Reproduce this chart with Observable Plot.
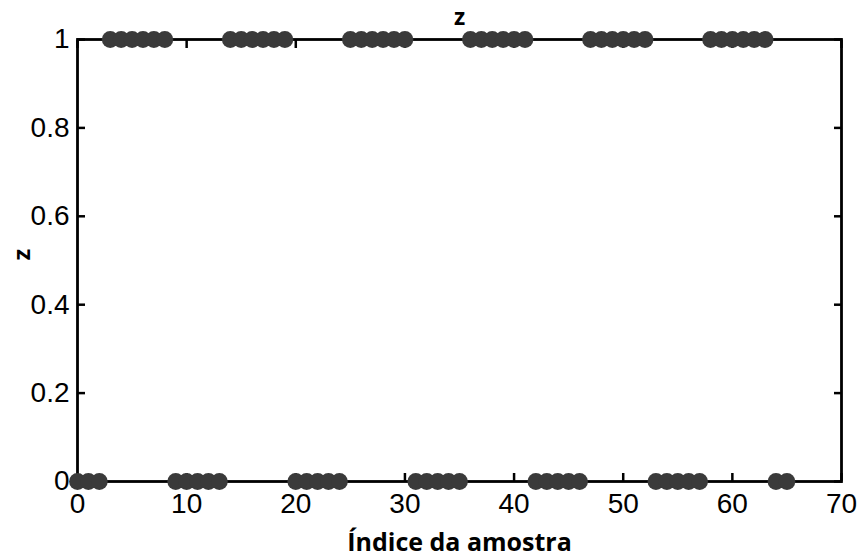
<!DOCTYPE html>
<html>
<head>
<meta charset="utf-8">
<script src="https://cdn.jsdelivr.net/npm/d3@7"></script>
<script src="https://cdn.jsdelivr.net/npm/@observablehq/plot@0.6"></script>
<style>
  html, body { margin: 0; padding: 0; background: #fff; }
</style>
</head>
<body>
<div id="chart"></div>
<script>
// Sample index and binary state z for each sample
const sampleIndex = [
  0, 1, 2, 3, 4, 5, 6, 7, 8, 9, 10, 11, 12, 13, 14, 15, 16, 17, 18, 19, 20, 21,
  22, 23, 24, 25, 26, 27, 28, 29, 30, 31, 32, 33, 34, 35, 36, 37, 38, 39, 40, 41, 42, 43,
  44, 45, 46, 47, 48, 49, 50, 51, 52, 53, 54, 55, 56, 57, 58, 59, 60, 61, 62, 63, 64, 65
];
const zValue = [
  0, 0, 0, 1, 1, 1, 1, 1, 1, 0, 0, 0, 0, 0, 1, 1, 1, 1, 1, 1, 0, 0,
  0, 0, 0, 1, 1, 1, 1, 1, 1, 0, 0, 0, 0, 0, 1, 1, 1, 1, 1, 1, 0, 0,
  0, 0, 0, 1, 1, 1, 1, 1, 1, 0, 0, 0, 0, 0, 1, 1, 1, 1, 1, 1, 0, 0
];
const xTicks = [0, 10, 20, 30, 40, 50, 60, 70];
const yTicks = [0, 0.2, 0.4, 0.6, 0.8, 1];

const titleText = "z";
const xLabel = "Índice da amostra";
const yLabel = "z";

const points = sampleIndex.map((x, i) => ({x, z: zValue[i]}));

const labelFont = "'Open Sans', 'DejaVu Sans', sans-serif";
const tickFont = "'Liberation Sans', Arial, sans-serif";

const chart = Plot.plot({
  width: 861,
  height: 557,
  marginLeft: 77,
  marginRight: 20,
  marginTop: 39,
  marginBottom: 76,
  style: {fontFamily: tickFont, fontSize: "28px", color: "#000", background: "#fff"},
  x: {domain: [0, 70], ticks: xTicks},
  y: {domain: [0, 1], ticks: yTicks},
  marks: [
    // tick labels
    Plot.axisX({anchor: "bottom", ticks: xTicks, tickSize: 0, tickPadding: 12, label: null,
      fontSize: 28, fontFamily: tickFont, fill: "#000"}),
    Plot.axisY({anchor: "left", ticks: yTicks, tickSize: 0, tickPadding: 8, label: null,
      tickFormat: d => String(d), fontSize: 28, fontFamily: tickFont, fill: "#000"}),
    // inward ticks on all four sides
    Plot.axisX({anchor: "bottom", ticks: xTicks, tickSize: -8, tickFormat: () => "", label: null, strokeWidth: 2.5}),
    Plot.axisX({anchor: "top", ticks: xTicks, tickSize: -8, tickFormat: () => "", label: null, strokeWidth: 2.5}),
    Plot.axisY({anchor: "left", ticks: yTicks, tickSize: -8, tickFormat: () => "", label: null, strokeWidth: 2.5}),
    Plot.axisY({anchor: "right", ticks: yTicks, tickSize: -8, tickFormat: () => "", label: null, strokeWidth: 2.5}),
    Plot.frame({stroke: "#000", strokeWidth: 2.8}),
    Plot.dot(points, {x: "x", y: "z", r: 8.4, fill: "#3a3a3a", stroke: "none"}),
    // title and axis labels
    Plot.text([titleText], {frameAnchor: "top", lineAnchor: "middle", dy: -22, text: d => d,
      fontFamily: labelFont, fontWeight: "bold", fontSize: 23, fill: "#000"}),
    Plot.text([xLabel], {frameAnchor: "bottom", lineAnchor: "middle", dy: 61, text: d => d,
      fontFamily: labelFont, fontWeight: "bold", fontSize: 25, fill: "#000"}),
    Plot.text([yLabel], {frameAnchor: "left", lineAnchor: "middle", dx: -55, rotate: -90, text: d => d,
      fontFamily: labelFont, fontWeight: "bold", fontSize: 24, fill: "#000"})
  ]
});

document.getElementById("chart").appendChild(chart);
</script>
</body>
</html>
